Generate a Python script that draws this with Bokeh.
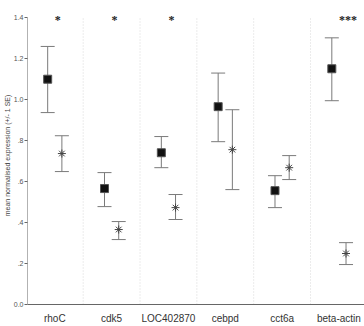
from bokeh.plotting import figure
from bokeh.models import (FixedTicker, Range1d, LabelSet, ColumnDataSource)
from bokeh.embed import file_html
from bokeh.resources import INLINE

# Genes and the two groups' mean normalised expression with +/- 1 SE bounds
genes = ["rhoC", "cdk5", "LOC402870", "cebpd", "cct6a", "beta-actin"]

group_a_mean = [1.10, 0.566, 0.741, 0.966, 0.556, 1.151]
group_a_upper = [1.26, 0.644, 0.820, 1.130, 0.629, 1.302]
group_a_lower = [0.937, 0.478, 0.668, 0.795, 0.473, 0.995]

group_b_mean = [0.737, 0.366, 0.473, 0.756, 0.668, 0.249]
group_b_upper = [0.824, 0.405, 0.537, 0.951, 0.727, 0.302]
group_b_lower = [0.649, 0.317, 0.415, 0.561, 0.610, 0.195]

significance = ["*", "*", "*", "", "", "***"]

y_ticks = [0.0, 0.2, 0.4, 0.6, 0.8, 1.0, 1.2, 1.4]
y_tick_labels = ["0.0", ".2", ".4", ".6", ".8", "1.0", "1.2", "1.4"]

FONT = "Liberation Sans"
DODGE = 0.125
Y_TOP = 1.4
X_START = -0.48

xs = list(range(len(genes)))

p = figure(width=364, height=326, output_backend="svg", toolbar_location=None,
           x_range=Range1d(X_START, 5.45), y_range=Range1d(0, 1.455),
           min_border_left=0, min_border_right=0, min_border_top=6,
           min_border_bottom=22, background_fill_color="white",
           border_fill_color="white")
p.outline_line_color = None
p.xgrid.visible = False
p.ygrid.visible = False

# y axis line stops at the top tick
p.segment(x0=[X_START], y0=[0], x1=[X_START], y1=[Y_TOP],
          line_color="#666666", line_width=1)

# dotted separators between genes
seps = [i + 0.5 for i in xs[:-1]]
p.segment(x0=seps, y0=[0] * len(seps), x1=seps, y1=[Y_TOP] * len(seps),
          line_color="#d8d8d8", line_dash="1 2", line_width=1)


def draw_group(offset, mean, upper, lower, marker, size, fill, line, lw):
    x = [v + offset for v in xs]
    src = ColumnDataSource(dict(x=x, mean=mean, upper=upper, lower=lower))
    p.segment(x0="x", y0="lower", x1="x", y1="upper", source=src,
              line_color="#7a7a7a", line_width=1)
    p.scatter(x="x", y="upper", source=src, marker="dash", size=14,
              line_color="#7a7a7a", line_width=1)
    p.scatter(x="x", y="lower", source=src, marker="dash", size=14,
              line_color="#7a7a7a", line_width=1)
    p.scatter(x="x", y="mean", source=src, marker=marker, size=size,
              fill_color=fill, line_color=line, line_width=lw)


draw_group(-DODGE, group_a_mean, group_a_upper, group_a_lower,
           "square", 8, "#111111", "#555555", 1)
draw_group(DODGE, group_b_mean, group_b_upper, group_b_lower,
           "asterisk", 8, None, "#444444", 1)

# significance markers above each gene
sig_src = ColumnDataSource(dict(x=xs, y=[Y_TOP] * len(xs), t=significance))
p.add_layout(LabelSet(x="x", y="y", text="t", source=sig_src,
                      text_font="DejaVu Sans", text_font_size="12px",
                      text_font_style="bold", text_color="#222222",
                      text_align="left", text_baseline="middle",
                      y_offset=-2))

# axes
p.xaxis.ticker = FixedTicker(ticks=xs)
p.xaxis.major_label_overrides = {i: g for i, g in enumerate(genes)}
p.xaxis.major_tick_line_color = None
p.xaxis.minor_tick_line_color = None
p.xaxis.axis_line_color = "#666666"
p.xaxis.major_label_text_font = FONT
p.xaxis.major_label_text_font_size = "10px"
p.xaxis.major_label_text_color = "#333333"
p.xaxis.major_label_standoff = 2

p.yaxis.ticker = FixedTicker(ticks=y_ticks)
p.yaxis.major_label_overrides = {t: l for t, l in zip(y_ticks, y_tick_labels)}
p.yaxis.minor_tick_line_color = None
p.yaxis.axis_line_color = None
p.yaxis.major_tick_line_color = "#666666"
p.yaxis.major_tick_in = 0
p.yaxis.major_tick_out = 3
p.yaxis.major_label_text_font = FONT
p.yaxis.major_label_text_font_size = "7px"
p.yaxis.major_label_text_color = "#555555"
p.yaxis.major_label_standoff = 1
p.yaxis.axis_label = "mean normalised expression (+/- 1 SE)"
p.yaxis.axis_label_text_font = FONT
p.yaxis.axis_label_text_font_size = "7px"
p.yaxis.axis_label_text_font_style = "normal"
p.yaxis.axis_label_text_color = "#444444"
p.yaxis.axis_label_standoff = 0

open("out.html", "w").write(file_html(p, INLINE))
